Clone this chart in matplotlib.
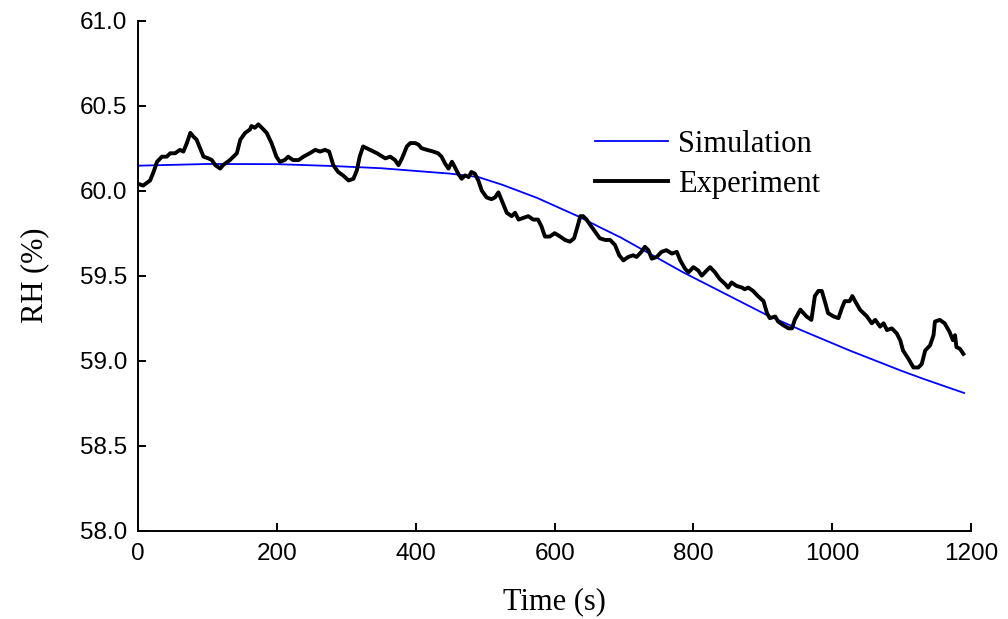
import matplotlib
matplotlib.use("Agg")
import matplotlib.pyplot as plt

# simulated RH curve
sim_time = [0, 100, 200, 280, 350, 450, 490, 525, 575, 635, 665, 695,
            785, 905, 955, 1025, 1100, 1130, 1190]
sim_rh = [60.147, 60.157, 60.156, 60.145, 60.132, 60.10, 60.08, 60.034,
          59.957, 59.847, 59.785, 59.725, 59.52, 59.27, 59.18, 59.06,
          58.94, 58.895, 58.81]

# measured RH
exp_time = [0, 7, 17, 22, 27, 34, 41, 46, 53, 60, 65, 70, 75, 79, 84, 89,
            94, 101, 106, 111, 118, 122, 132, 142, 147, 154, 161, 163, 168,
            173, 178, 185, 192, 199, 204, 211, 216, 223, 231, 238, 247, 255,
            262, 269, 275, 281, 288, 295, 303, 310, 315, 319, 324, 334, 344,
            356, 363, 370, 375, 380, 387, 392, 399, 404, 408, 416, 425, 432,
            437, 442, 447, 452, 456, 461, 466, 471, 476, 480, 485, 490, 495,
            502, 509, 514, 519, 524, 531, 538, 543, 548, 555, 562, 569, 576,
            581, 586, 593, 600, 608, 615, 622, 628, 633, 637, 641, 646, 651,
            658, 665, 673, 680, 687, 693, 699, 706, 713, 718, 725, 730, 735,
            740, 747, 754, 761, 769, 776, 781, 788, 793, 800, 807, 812, 819,
            824, 831, 838, 846, 850, 855, 862, 870, 874, 879, 886, 893, 901,
            906, 910, 918, 922, 929, 937, 942, 946, 954, 963, 970, 975, 980,
            985, 990, 994, 1002, 1009, 1014, 1018, 1025, 1029, 1033, 1040,
            1050, 1057, 1062, 1069, 1074, 1079, 1086, 1093, 1098, 1102, 1110,
            1117, 1124, 1129, 1134, 1141, 1146, 1148, 1155, 1162, 1169, 1174,
            1177, 1179, 1184, 1189]
exp_rh = [60.04, 60.03, 60.06, 60.11, 60.17, 60.20, 60.20, 60.22, 60.22,
          60.24, 60.23, 60.28, 60.34, 60.32, 60.30, 60.25, 60.20, 60.19,
          60.18, 60.15, 60.13, 60.15, 60.18, 60.22, 60.30, 60.34, 60.36,
          60.38, 60.37, 60.39, 60.37, 60.34, 60.28, 60.20, 60.17, 60.18,
          60.20, 60.18, 60.18, 60.20, 60.22, 60.24, 60.23, 60.24, 60.23,
          60.15, 60.11, 60.09, 60.06, 60.07, 60.12, 60.20, 60.26, 60.24,
          60.22, 60.19, 60.20, 60.18, 60.15, 60.19, 60.26, 60.28, 60.28,
          60.27, 60.25, 60.24, 60.23, 60.22, 60.20, 60.16, 60.13, 60.17,
          60.14, 60.10, 60.07, 60.09, 60.08, 60.11, 60.10, 60.06, 60.00,
          59.96, 59.95, 59.96, 59.99, 59.94, 59.87, 59.85, 59.87, 59.83,
          59.84, 59.85, 59.83, 59.83, 59.79, 59.73, 59.73, 59.75, 59.73,
          59.71, 59.70, 59.72, 59.79, 59.85, 59.85, 59.83, 59.80, 59.76,
          59.72, 59.71, 59.71, 59.68, 59.62, 59.59, 59.61, 59.62, 59.61,
          59.64, 59.67, 59.65, 59.60, 59.61, 59.64, 59.65, 59.63, 59.64,
          59.59, 59.54, 59.52, 59.55, 59.53, 59.50, 59.53, 59.55, 59.52,
          59.48, 59.45, 59.43, 59.46, 59.44, 59.43, 59.42, 59.43, 59.41,
          59.38, 59.35, 59.28, 59.25, 59.26, 59.23, 59.21, 59.19, 59.19,
          59.24, 59.30, 59.26, 59.24, 59.38, 59.41, 59.41, 59.34, 59.28,
          59.26, 59.25, 59.31, 59.35, 59.35, 59.38, 59.35, 59.30, 59.26,
          59.22, 59.24, 59.20, 59.22, 59.18, 59.19, 59.16, 59.12, 59.06,
          59.01, 58.96, 58.96, 58.98, 59.06, 59.09, 59.15, 59.23, 59.24,
          59.22, 59.17, 59.12, 59.15, 59.08, 59.07, 59.04]

x_ticks = [0, 200, 400, 600, 800, 1000, 1200]
y_ticks = [58.0, 58.5, 59.0, 59.5, 60.0, 60.5, 61.0]

sans = ["Liberation Sans", "DejaVu Sans"]
serif = ["Liberation Serif", "DejaVu Serif"]

fig = plt.figure(figsize=(10.08, 6.19), dpi=100)
ax = fig.add_axes([0.1372, 0.1427, 0.8261, 0.8239])

ax.plot(sim_time, sim_rh, color="#0000ff", lw=1.3, label="Simulation")
ax.plot(exp_time, exp_rh, color="black", lw=2.8, solid_joinstyle="round",
        label="Experiment")

ax.set_xlim(0, 1200)
ax.set_ylim(58, 61)
ax.set_xticks(x_ticks)
ax.set_yticks(y_ticks)
ax.set_yticklabels([f"{v:.1f}" for v in y_ticks])

for side in ("top", "right"):
    ax.spines[side].set_visible(False)
for side in ("left", "bottom"):
    ax.spines[side].set_linewidth(1.4)

ax.tick_params(direction="in", length=6, width=1.4, labelsize=17.5)
ax.tick_params(axis="x", pad=9)
ax.tick_params(axis="y", pad=8)
for lab in ax.get_xticklabels() + ax.get_yticklabels():
    lab.set_family(sans)

ax.set_xlabel("Time (s)", family=serif, fontsize=22, labelpad=16)
ax.set_ylabel("RH (%)", family=serif, fontsize=22, labelpad=22)

ax.legend(loc="center left", bbox_to_anchor=(0.5903, 0.7345),
          bbox_transform=fig.transFigure, frameon=False,
          prop={"family": serif, "size": 22}, handlelength=2.4,
          handletextpad=0.33, labelspacing=0.38, borderpad=0,
          borderaxespad=0)

plt.savefig("out.png", dpi=100)
plt.close()
